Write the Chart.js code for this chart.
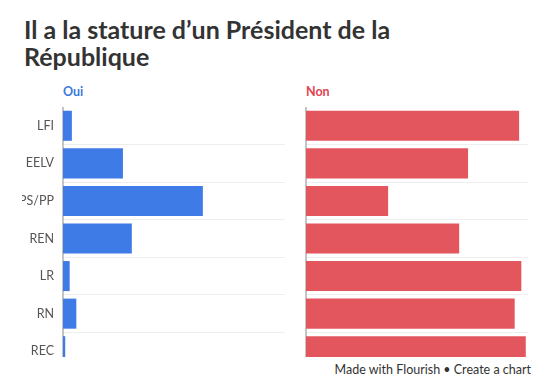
<!DOCTYPE html>
<html>
<head>
<meta charset="utf-8">
<script src="https://cdn.jsdelivr.net/npm/chart.js@4.4.1/dist/chart.umd.min.js"></script>
<style>
  body { margin: 0; width: 552px; height: 391px; background: #fff; position: relative; overflow: hidden; font-family: Lato, "Open Sans", sans-serif; }
  h1 { position: absolute; left: 24px; top: 16px; margin: 0; font-size: 25px; line-height: 27px; font-weight: 700; color: #333; }
  .head { position: absolute; top: 84px; font-size: 12.5px; font-weight: 700; }
  .clip { position: absolute; top: 107px; height: 250px; overflow: hidden; }
  .foot { position: absolute; right: 21px; top: 362px; font-size: 12.5px; color: #333; }
</style>
</head>
<body>
<h1>Il a la stature d’un Président de la<br>République</h1>
<div class="head" style="left:63px;color:#3a78e0">Oui</div>
<div class="head" style="left:306px;color:#e0434f">Non</div>
<div class="clip" style="left:22px;width:263px"><canvas id="ouiChart" width="263" height="263"></canvas></div>
<div class="clip" style="left:304px;width:224px"><canvas id="nonChart" width="224" height="263"></canvas></div>
<div class="foot">Made with Flourish • Create a chart</div>
<script>
const categories = ['LFI', 'EELV', 'PS/PP', 'REN', 'LR', 'RN', 'REC'];
const ouiValues = [4, 27, 63, 31, 3, 6, 1];
const nonValues = [96, 73, 37, 69, 97, 94, 99];

function panelOptions(showLabels, axisWidth) {
    return {
        indexAxis: 'y',
        responsive: false,
        animation: false,
        layout: { padding: 0, autoPadding: false },
        plugins: {
            legend: { display: false },
            tooltip: { enabled: false }
        },
        scales: {
            x: { display: false, min: 0, max: 100 },
            y: {
                afterFit: (scale) => {
                    scale.width = axisWidth;
                    // labels sit inside their bands, no extra room needed
                    scale.paddingTop = 0;
                    scale.paddingBottom = 0;
                },
                border: { display: true, color: '#c4c4c4', width: 2 },
                grid: {
                    drawTicks: false,
                    color: (c) => c.index === 0 ? 'rgba(0,0,0,0)' : '#eeeeee',
                    lineWidth: 1
                },
                ticks: {
                    display: showLabels,
                    padding: 9,
                    color: '#555',
                    font: { family: 'Lato, sans-serif', size: 12.5 }
                }
            }
        }
    };
}

new Chart(document.getElementById('ouiChart'), {
    type: 'bar',
    data: {
        labels: categories,
        datasets: [{
            data: ouiValues,
            backgroundColor: '#3f7be6',
            categoryPercentage: 0.8,
            barPercentage: 1
        }]
    },
    options: panelOptions(true, 41)
});

new Chart(document.getElementById('nonChart'), {
    type: 'bar',
    data: {
        labels: categories,
        datasets: [{
            data: nonValues,
            backgroundColor: '#e4565e',
            categoryPercentage: 0.8,
            barPercentage: 1
        }]
    },
    options: panelOptions(false, 2)
});
</script>
</body>
</html>
